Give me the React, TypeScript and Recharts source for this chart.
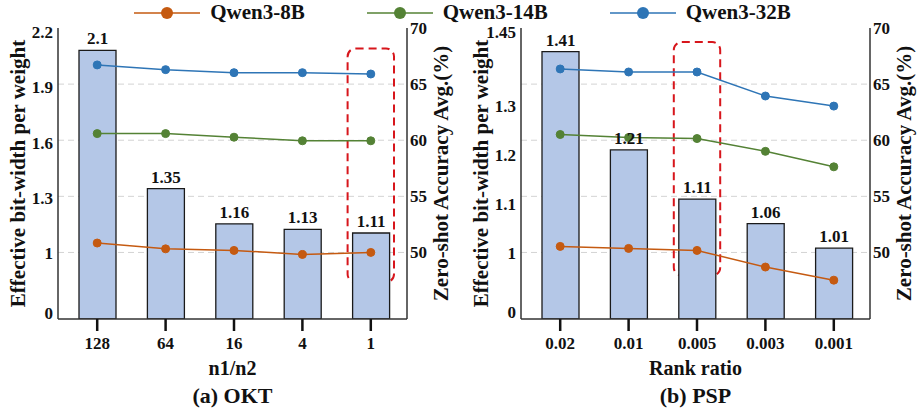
import { ComposedChart, Bar, Line, XAxis, YAxis, CartesianGrid, LabelList, ReferenceArea } from "recharts";

// (a) OKT
const oktRatios = ["128", "64", "16", "4", "1"];
const oktBits = [2.1, 1.35, 1.16, 1.13, 1.11];
const oktQwen8B = [50.84, 50.32, 50.18, 49.82, 50.0];
const oktQwen14B = [60.59, 60.59, 60.27, 59.95, 59.95];
const oktQwen32B = [66.71, 66.29, 66.02, 66.02, 65.9];

// (b) PSP
const pspRatios = ["0.02", "0.01", "0.005", "0.003", "0.001"];
const pspBits = [1.41, 1.21, 1.11, 1.06, 1.01];
const pspQwen8B = [50.54, 50.36, 50.18, 48.7, 47.53];
const pspQwen14B = [60.51, 60.24, 60.15, 59.01, 57.63];
const pspQwen32B = [66.35, 66.08, 66.08, 63.94, 63.04];

// left axis is broken below 1, the "0" tick sits at the break
const oktBitTicks = [0, 1, 1.3, 1.6, 1.9, 2.2];
const pspBitTicks = [0, 1, 1.1, 1.2, 1.3, 1.45];
const accTicks = [50, 55, 60, 65, 70];
const accGrid = [50, 55, 60, 65];

const FONT = "Liberation Serif, serif";
const ORANGE = "#C55A11";
const GREEN = "#548235";
const BLUE = "#2E75B6";
const FRAME = "#333";

const series = [
  { key: "q8", name: "Qwen3-8B", color: ORANGE },
  { key: "q14", name: "Qwen3-14B", color: GREEN },
  { key: "q32", name: "Qwen3-32B", color: BLUE },
];

const HighlightBox = (props: any) => {
  const { x, y, width, height } = props;
  const inset = 11;
  return (
    <rect
      x={x + inset}
      y={y}
      width={width - inset * 2}
      height={height}
      rx={8}
      ry={8}
      fill="none"
      stroke="#D7161C"
      strokeWidth={2}
      strokeDasharray="8 5"
    />
  );
};

type PanelProps = {
  left: number;
  categories: string[];
  bits: number[];
  q8: number[];
  q14: number[];
  q32: number[];
  bitDomain: [number, number];
  bitTicks: number[];
  bitBreak: number;
  highlight: string;
  highlightRange: [number, number];
  xLabel: string;
  caption: string;
};

function Panel({ left, categories, bits, q8, q14, q32, bitDomain, bitTicks, bitBreak, highlight, highlightRange, xLabel, caption }: PanelProps) {
  const data = categories.map((cat, i) => ({ cat, bits: bits[i], q8: q8[i], q14: q14[i], q32: q32[i] }));
  const ticks = bitTicks.map((t) => (t === 0 ? bitBreak : t));
  const tickStyle = { fill: "#111", fontSize: 17, fontWeight: "bold", fontFamily: FONT };
  const titleStyle = { fill: "#111", fontSize: 21, fontWeight: "bold", fontFamily: FONT };

  return (
    <div style={{ position: "absolute", left, top: 0, width: 454, height: 412 }}>
      <ComposedChart width={454} height={412} data={data} margin={{ top: 28, right: 0, bottom: 0, left: 0 }}>
        <CartesianGrid xAxisId="bottom" yAxisId="acc" vertical={false} horizontalValues={accGrid} stroke="#d3d3d3" strokeDasharray="6 4" />
        <XAxis
          xAxisId="bottom"
          dataKey="cat"
          height={93}
          padding={{ left: 5, right: 2 }}
          tickSize={12}
          tickMargin={6}
          tick={tickStyle}
          tickLine={{ stroke: "#111", strokeWidth: 2.5 }}
          axisLine={{ stroke: FRAME, strokeWidth: 1.5 }}
          label={{ value: xLabel, position: "insideBottom", offset: 37, ...titleStyle, fontSize: 20 }}
        />
        <XAxis xAxisId="top" dataKey="cat" orientation="top" height={0} tick={false} tickLine={false} axisLine={{ stroke: FRAME, strokeWidth: 1.5 }} />
        <YAxis
          yAxisId="bits"
          width={58}
          domain={bitDomain}
          ticks={ticks}
          interval={0}
          allowDataOverflow
          tickSize={0}
          tickMargin={5}
          tick={tickStyle}
          tickFormatter={(v: number) => (v === bitBreak ? "0" : String(v))}
          axisLine={{ stroke: FRAME, strokeWidth: 1.5 }}
          label={{ value: "Effective bit-width per weight", angle: -90, position: "insideLeft", offset: 18, style: { textAnchor: "middle" }, ...titleStyle }}
        />
        <YAxis
          yAxisId="acc"
          orientation="right"
          width={47}
          domain={[44.07, 70]}
          ticks={accTicks}
          interval={0}
          allowDataOverflow
          tickSize={0}
          tickMargin={3}
          tick={tickStyle}
          axisLine={{ stroke: FRAME, strokeWidth: 1.5 }}
          label={{ value: "Zero-shot Accuracy Avg.(%)", angle: -90, position: "insideRight", offset: 13, style: { textAnchor: "middle" }, ...titleStyle }}
        />
        <Bar xAxisId="bottom" yAxisId="bits" dataKey="bits" barSize={37} fill="#B4C7E7" stroke="#1a1a1a" strokeWidth={1.3} isAnimationActive={false}>
          <LabelList dataKey="bits" position="top" offset={6} fill="#111" fontSize={17} fontWeight="bold" fontFamily={FONT} />
        </Bar>
        <ReferenceArea
          xAxisId="bottom"
          yAxisId="acc"
          x1={highlight}
          x2={highlight}
          y1={highlightRange[0]}
          y2={highlightRange[1]}
          ifOverflow="visible"
          shape={HighlightBox}
        />
        {series.map((s) => (
          <Line
            key={s.key}
            xAxisId="bottom"
            yAxisId="acc"
            dataKey={s.key}
            name={s.name}
            stroke={s.color}
            strokeWidth={1.5}
            dot={{ r: 4, fill: s.color, stroke: s.color, strokeWidth: 1 }}
            isAnimationActive={false}
          />
        ))}
      </ComposedChart>
      <div
        style={{
          position: "absolute",
          left: 58,
          width: 349,
          top: 385,
          lineHeight: "22px",
          fontSize: 22,
          fontWeight: "bold",
          textAlign: "center",
          color: "#111",
        }}
      >
        {caption}
      </div>
    </div>
  );
}

function Legend() {
  return (
    <div
      style={{
        position: "absolute",
        left: 0,
        top: 2,
        width: 917,
        height: 20,
        display: "flex",
        justifyContent: "center",
        alignItems: "center",
        gap: 62,
        paddingLeft: 8,
        boxSizing: "border-box",
      }}
    >
      {series.map((s) => (
        <div key={s.key} style={{ display: "flex", alignItems: "center" }}>
          <svg width={66} height={20} style={{ marginRight: 10 }}>
            <line x1={0} y1={11} x2={66} y2={11} stroke={s.color} strokeWidth={1.5} />
            <circle cx={33} cy={11} r={6} fill={s.color} />
          </svg>
          <span style={{ fontSize: 21, fontWeight: "bold", color: "#111", lineHeight: "20px" }}>{s.name}</span>
        </div>
      ))}
    </div>
  );
}

export default function App() {
  return (
    <div className="fig-root" style={{ position: "absolute", left: 0, top: 0, width: 917, height: 412, background: "#fff", fontFamily: FONT }}>
      <style>{`.fig-root, .fig-root text, .fig-root tspan { font-family: "Liberation Serif", serif !important; }`}</style>
      <Panel
        left={0}
        categories={oktRatios}
        bits={oktBits}
        q8={oktQwen8B}
        q14={oktQwen14B}
        q32={oktQwen32B}
        bitDomain={[0.644, 2.221]}
        bitTicks={oktBitTicks}
        bitBreak={0.675}
        highlight="1"
        highlightRange={[47.35, 68.18]}
        xLabel="n1/n2"
        caption="(a) OKT"
      />
      <Panel
        left={463}
        categories={pspRatios}
        bits={pspBits}
        q8={pspQwen8B}
        q14={pspQwen14B}
        q32={pspQwen32B}
        bitDomain={[0.866, 1.458]}
        bitTicks={pspBitTicks}
        bitBreak={0.88}
        highlight="0.005"
        highlightRange={[47.95, 68.75]}
        xLabel="Rank ratio"
        caption="(b) PSP"
      />
      <Legend />
    </div>
  );
}
